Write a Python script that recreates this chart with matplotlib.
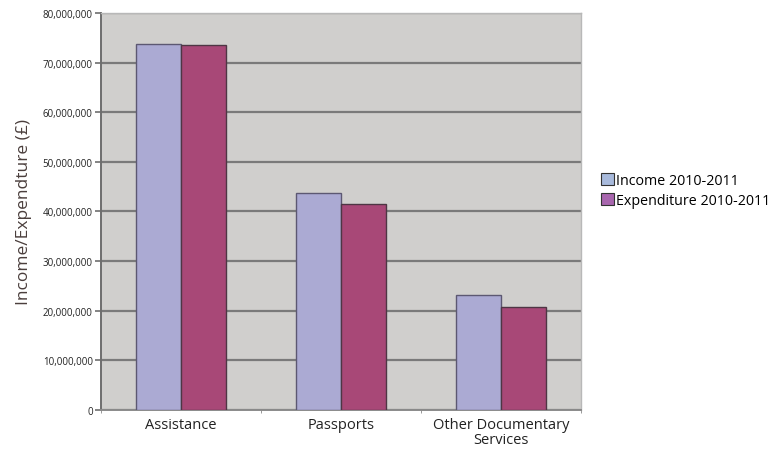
import numpy as np
import matplotlib
matplotlib.use("Agg")
import matplotlib.pyplot as plt
from matplotlib.patches import Patch
from matplotlib.ticker import FuncFormatter

# data
categories = ["Assistance", "Passports", "Other Documentary\nServices"]
income = [73.8e6, 43.7e6, 23.1e6]
expenditure = [73.6e6, 41.5e6, 20.8e6]
series_names = ["Income 2010-2011", "Expenditure 2010-2011"]

plt.rcParams['font.family'] = ['Open Sans', 'DejaVu Sans']

fig = plt.figure(figsize=(7.79, 4.56), dpi=100)
ax = fig.add_axes([0.1297, 0.0987, 0.6161, 0.8706])

x = np.arange(len(categories))
w = 0.28
ax.bar(x - w / 2, income, w, color="#abaad3", edgecolor="#5c5872", linewidth=1.0, zorder=3)
ax.bar(x + w / 2, expenditure, w, color="#a84877", edgecolor="#4e3644", linewidth=1.0, zorder=3)

ax.set_facecolor("#d0cfcd")
ax.set_xlim(-0.5, len(categories) - 0.5)
ax.set_ylim(0, 80e6)
ax.set_yticks(np.arange(0, 80e6 + 1, 10e6))
ax.yaxis.set_major_formatter(FuncFormatter(lambda v, p: f"{int(v):,}"))
ax.grid(axis="y", color="#7a7a7a", linewidth=1.6, zorder=1)

ax.set_xticks(x)
ax.set_xticklabels(categories, fontsize=10.5, color="#222222", linespacing=1.0)
ax.set_xticks(np.arange(-0.5, len(categories), 1), minor=True)
ax.tick_params(axis="x", which="major", length=0, pad=5)
ax.tick_params(axis="x", which="minor", length=2, color="#888888")
ax.tick_params(axis="y", length=4, width=1.2, color="#6e6e6e", labelsize=7, pad=2, labelcolor="#222222")

for s in ["top", "right"]:
    ax.spines[s].set_color("#b8b8b8")
    ax.spines[s].set_linewidth(1.0)
ax.spines["left"].set_color("#6e6e6e")
ax.spines["left"].set_linewidth(1.4)
ax.spines["bottom"].set_color("#8a8a8a")
ax.spines["bottom"].set_linewidth(1.4)

ax.set_ylabel("Income/Expendture (£)", fontsize=12.5, color="#4a3e3c", labelpad=8)

handles = [Patch(facecolor="#a8badc", edgecolor="#333333", linewidth=0.8),
           Patch(facecolor="#a866ae", edgecolor="#333333", linewidth=0.8)]
fig.legend(handles, series_names, loc="center left", bbox_to_anchor=(0.764, 0.581),
           frameon=False, fontsize=10.3, handlelength=0.9, handleheight=0.9,
           handletextpad=0.15, labelspacing=0.35, borderaxespad=0)

fig.savefig("out.png", dpi=100)
